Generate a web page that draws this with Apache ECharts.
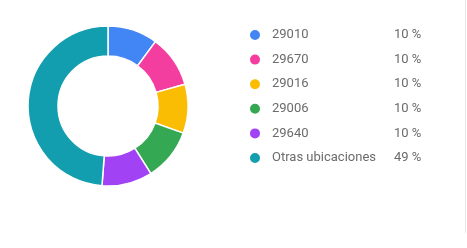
<!DOCTYPE html>
<html><head><meta charset="utf-8">
<script src="https://cdn.jsdelivr.net/npm/echarts@6/dist/echarts.min.js"></script>
<style>html,body{margin:0;padding:0;background:#fff}#c{width:467px;height:248px}</style>
</head><body><div id="c"></div>
<script>
const categories = ['29010', '29670', '29016', '29006', '29640', 'Otras ubicaciones'];
const values = [10.1, 10.5, 9.9, 10.5, 10.2, 48.8];
const percentLabels = ['10 %', '10 %', '10 %', '10 %', '10 %', '49 %'];
const colors = ['#4285f4', '#f33ea0', '#fbbc04', '#34a853', '#a142f4', '#129eaf'];

const chart = echarts.init(document.getElementById('c'), null, {renderer: 'canvas'});
chart.setOption({
  animation: false,
  color: colors,
  legend: {
    orient: 'vertical',
    left: 243,
    top: 23,
    icon: 'circle',
    itemWidth: 12,
    itemHeight: 12,
    itemGap: 10.6,
    selectedMode: false,
    formatter: function (name) {
      const i = categories.indexOf(name);
      return '{n|' + name + '}{p|' + percentLabels[i] + '}';
    },
    textStyle: {
      rich: {
        n: {width: 122, fontFamily: 'Roboto', fontSize: 13, lineHeight: 14, color: '#6b6b6b', padding: [0, 0, 0, 6]},
        p: {fontFamily: 'Roboto', fontSize: 13, lineHeight: 14, color: '#6b6b6b'}
      }
    }
  },
  graphic: [{
    type: 'rect', shape: {x: 465, y: 0, width: 1, height: 233},
    style: {fill: '#e6e6e6'}, silent: true
  }],
  series: [{
    type: 'pie',
    center: [108, 106],
    radius: [50, 80],
    startAngle: 90,
    clockwise: true,
    label: {show: false},
    labelLine: {show: false},
    itemStyle: {borderColor: '#fff', borderWidth: 1.5},
    emphasis: {disabled: true},
    data: categories.map((c, i) => ({name: c, value: values[i]}))
  }]
});
</script></body></html>
